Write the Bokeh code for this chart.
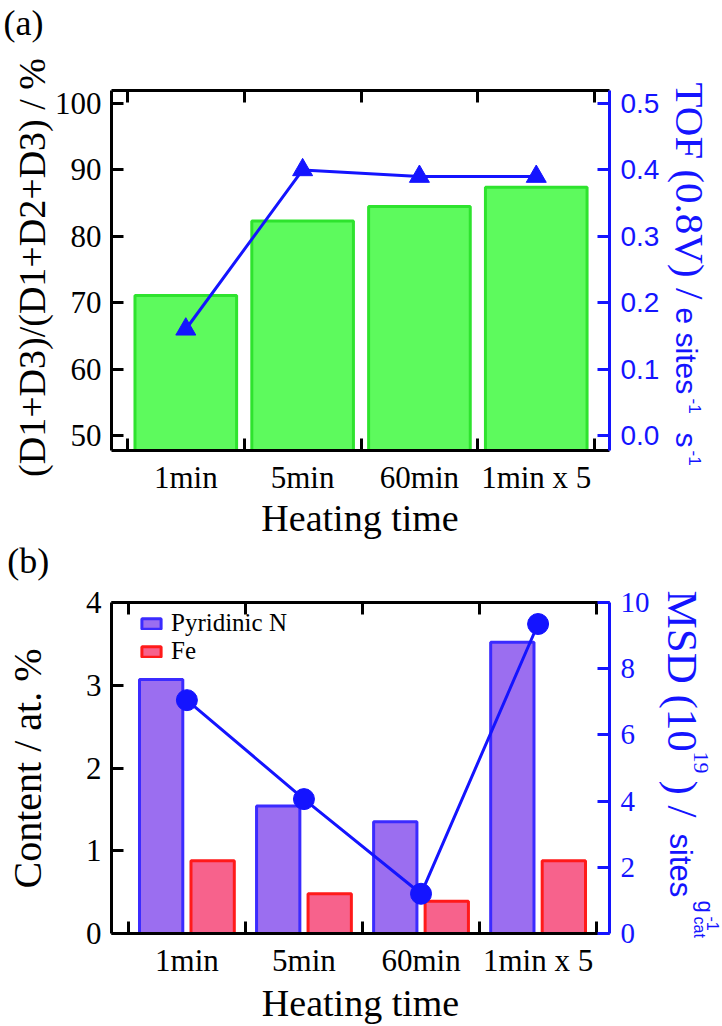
import math
from bokeh.plotting import figure
from bokeh.models import (Range1d, LinearAxis, FixedTicker, SingleIntervalTicker,
                          PrintfTickFormatter, Legend, LegendItem)
from bokeh.core.properties import value
from bokeh.layouts import column
from bokeh.embed import file_html
from bokeh.resources import INLINE

# ---------------- data ----------------
categories = ["1min", "5min", "60min", "1min x 5"]
d_ratio = [71.1, 82.3, 84.5, 87.4]          # (D1+D3)/(D1+D2+D3) / %
tof = [0.16, 0.40, 0.39, 0.39]              # TOF (0.8V)
pyridinic_n = [3.07, 1.54, 1.35, 3.52]      # Content / at. %
fe = [0.88, 0.48, 0.39, 0.88]
msd = [7.05, 4.06, 1.2, 9.35]               # MSD (10^19) / sites g_cat^-1

SERIF = "Liberation Serif"
SANS = "Liberation Sans"
BLUE = "#1414ff"
BLACK = "#000000"

xs = [i + 1 for i in range(len(categories))]
bounds = [i + 0.5 for i in range(len(categories) + 1)]
overrides = {x: c for x, c in zip(xs, categories)}

W = 722
R = -math.pi / 2
U = math.pi / 2


def make_fig(height, ml, mr, mt, mb, xr, yr, rr, y_int, r_int, r_fmt, r_font, r_size):
    p = figure(width=W, height=height, output_backend="svg", toolbar_location=None,
               x_axis_type=None, y_axis_type=None,
               x_range=Range1d(*xr), y_range=Range1d(*yr),
               min_border_left=ml, min_border_right=mr,
               min_border_top=mt, min_border_bottom=mb)
    p.extra_y_ranges = {"r": Range1d(*rr)}
    p.outline_line_color = None
    p.background_fill_color = "white"
    p.border_fill_color = "white"

    for loc in ("below", "above"):
        ax = LinearAxis(ticker=FixedTicker(ticks=xs, minor_ticks=bounds))
        ax.axis_line_width = 3
        ax.axis_line_color = BLACK
        ax.major_tick_line_color = None
        ax.minor_tick_in = 12
        ax.minor_tick_out = 0
        ax.minor_tick_line_width = 3
        ax.minor_tick_line_color = BLACK
        if loc == "below":
            ax.major_label_overrides = overrides
            ax.major_label_text_font = SERIF
            ax.major_label_text_font_size = "31px"
            ax.major_label_text_color = BLACK
            ax.major_label_standoff = 3
        else:
            ax.major_label_text_font_size = "0px"
            ax.major_label_text_color = None
        p.add_layout(ax, loc)

    la = LinearAxis(ticker=SingleIntervalTicker(interval=y_int, num_minor_ticks=0))
    la.axis_line_width = 3
    la.axis_line_color = BLACK
    la.major_tick_in = 12
    la.major_tick_out = 0
    la.major_tick_line_width = 3
    la.major_tick_line_color = BLACK
    la.minor_tick_line_color = None
    la.major_label_text_font = SERIF
    la.major_label_text_font_size = "31px"
    la.major_label_text_color = BLACK
    la.major_label_standoff = 10
    p.add_layout(la, "left")

    ra = LinearAxis(y_range_name="r",
                    ticker=SingleIntervalTicker(interval=r_int, num_minor_ticks=0))
    if r_fmt:
        ra.formatter = PrintfTickFormatter(format=r_fmt)
    ra.axis_line_width = 3
    ra.axis_line_color = BLUE
    ra.major_tick_in = 12
    ra.major_tick_out = 0
    ra.major_tick_line_width = 3
    ra.major_tick_line_color = BLUE
    ra.minor_tick_line_color = None
    ra.major_label_text_font = r_font
    ra.major_label_text_font_size = r_size
    ra.major_label_text_color = BLUE
    ra.major_label_standoff = 11
    p.add_layout(ra, "right")
    return p


def mapper(F, xr, yr):
    def f(px, py):
        x = xr[0] + (px - F["L"]) * (xr[1] - xr[0]) / (F["R"] - F["L"])
        y = yr[1] - (py - F["T"]) * (yr[1] - yr[0]) / (F["B"] - F["T"])
        return x, y
    return f


def add_text(p, m, px, py, text, font, size, color=BLACK, angle=0.0,
             align="left", baseline="alphabetic"):
    if baseline == "alphabetic":
        d = 0.33 * float(size.replace("px", ""))
        if angle == 0.0:
            py -= d
        elif angle == R:
            px += d
        else:
            px -= d
    x, y = m(px, py)
    p.text(x=[x], y=[y], text=[text], angle=angle,
           text_font=value(font), text_font_size=value(size),
           text_color=color, text_align=align, text_baseline=baseline,
           level="overlay")


# ---------------- panel (a) ----------------
HA = 540
OY_A = 0
FA = {"L": 111, "R": 614, "T": 90 - OY_A, "B": 450 - OY_A}
xa = (0.364, 4.627)
ya = (47.74, 101.96)
ra_ = (-0.0226, 0.5196)
pa = make_fig(HA, FA["L"], W - FA["R"], FA["T"], HA - FA["B"], xa, ya, ra_,
              10, 0.1, "%.1f", SANS, "28px")

pa.vbar(x=xs, top=d_ratio, bottom=ya[0], width=0.87,
        fill_color="#5dfa5d", line_color="#2ee32e", line_width=3)
pa.line(x=xs, y=tof, y_range_name="r", line_color=BLUE, line_width=3)
pa.scatter(x=xs, y=tof, y_range_name="r", marker="triangle", size=20,
           fill_color=BLUE, line_color=BLUE)

ma = mapper(FA, xa, ya)
def ta(px, py, *a, **k):
    add_text(pa, ma, px, py - OY_A, *a, **k)

ta(2, 34, "(a)", SERIF, "36px")
ta(31, 267, "(D1+D3)/(D1+D2+D3) / %", SERIF, "38px", angle=U,
   align="center", baseline="middle")
ta(362, 530, "Heating time", SERIF, "38px", align="center")
ta(682, 82, "TOF (0.8V) /", SERIF, "41px", BLUE, R)
ta(682, 307, "e sites", SANS, "30px", BLUE, R)
ta(695, 398, "-1", SANS, "17px", BLUE, R)
ta(682, 432, "s", SANS, "30px", BLUE, R)
ta(695, 450, "-1", SANS, "17px", BLUE, R)

# ---------------- panel (b) ----------------
HB = 485
OY_B = HA
FB = {"L": 107, "R": 609, "T": 602 - OY_B, "B": 933 - OY_B}
xb = (0.356, 4.61)
yb = (0.0, 4.0)
rb = (0.0, 10.0)
pb = make_fig(HB, FB["L"], W - FB["R"], FB["T"], HB - FB["B"], xb, yb, rb,
              1, 2, None, SERIF, "29px")

xs_n = [x - 0.22 for x in xs]
xs_fe = [x + 0.22 for x in xs]
rn = pb.vbar(x=xs_n, top=pyridinic_n, bottom=0, width=0.37,
             fill_color="#9b6ef0", line_color="#3b2bff", line_width=3)
rf = pb.vbar(x=xs_fe, top=fe, bottom=0, width=0.37,
             fill_color="#f7628c", line_color="#ff1a1a", line_width=3)
pb.line(x=xs, y=msd, y_range_name="r", line_color=BLUE, line_width=3)
pb.scatter(x=xs, y=msd, y_range_name="r", marker="circle", size=21,
           fill_color=BLUE, line_color=BLUE)

leg = Legend(items=[LegendItem(label="Pyridinic N", renderers=[rn]),
                    LegendItem(label="Fe", renderers=[rf])],
             location=(28, 268), orientation="vertical",
             label_text_font=SERIF, label_text_font_size="25px",
             label_text_color=BLACK,
             glyph_width=24, glyph_height=13, label_height=24,
             spacing=0, padding=0, margin=0, label_standoff=8,
             border_line_color=None, background_fill_alpha=0)
pb.add_layout(leg, "center")

mb = mapper(FB, xb, yb)
def tb(px, py, *a, **k):
    add_text(pb, mb, px, py - OY_B, *a, **k)

tb(2, 572, "(b)", SERIF, "36px")
tb(22, 768, "Content / at. %", SERIF, "40px", angle=U,
   align="center", baseline="middle")
tb(358, 1015, "Heating time", SERIF, "38px", align="center")
tb(668, 590, "MSD (10", SERIF, "43px", BLUE, R)
tb(694, 751, "19", SERIF, "22px", BLUE, R)
tb(668, 780, ") /", SERIF, "43px", BLUE, R)
tb(670, 833, "sites", SANS, "31px", BLUE, R)
tb(699, 900, "g", SANS, "22px", BLUE, R)
tb(694, 916, "cat", SANS, "16px", BLUE, R)
tb(708, 916, "-1", SANS, "16px", BLUE, R)

layout = column(pa, pb, spacing=0)
open("out.html", "w").write(file_html(layout, INLINE))
